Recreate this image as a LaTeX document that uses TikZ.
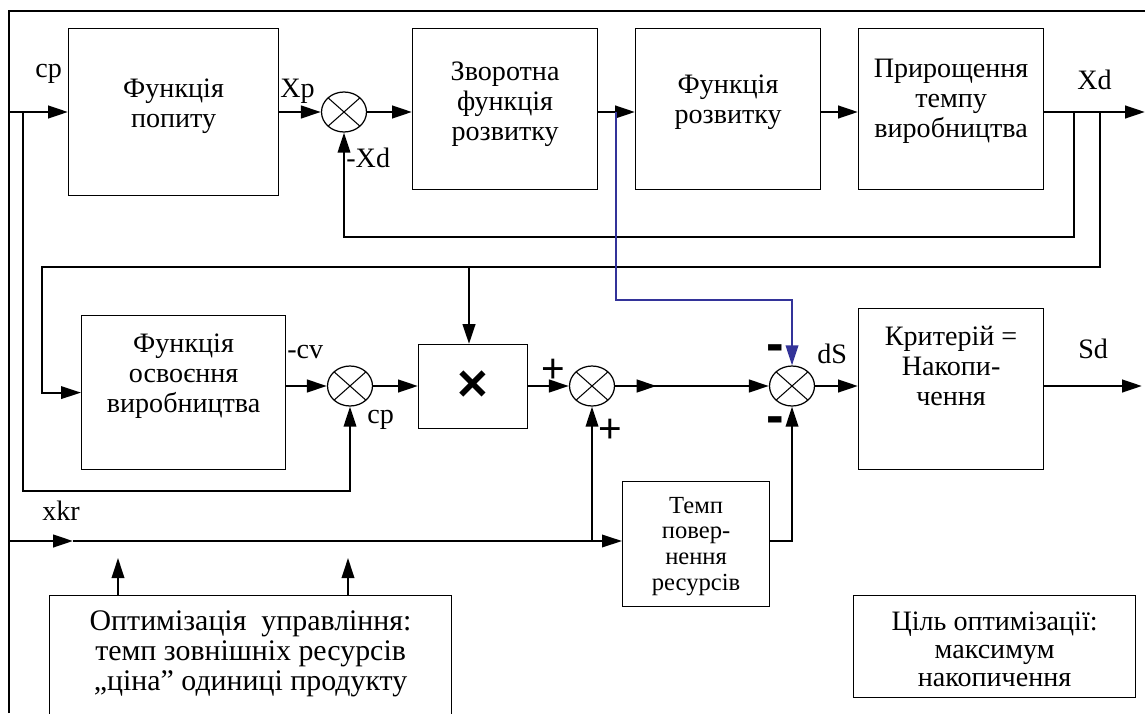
\documentclass[tikz,border=0pt]{standalone}
\usepackage{fontspec}
\setmainfont{Liberation Serif}
\newfontfamily\signfont{Liberation Sans}
\usetikzlibrary{arrows.meta}
\usetikzlibrary{shapes.geometric, positioning}
\usetikzlibrary{calc, decorations.markings}
\definecolor{linkblue}{RGB}{51,51,153}
\newcommand{\blockfont}{\fontsize{16}{17}\selectfont}
\newcommand{\smallblockfont}{\fontsize{14}{14.7}\selectfont}
\newcommand{\optfont}{\fontsize{17}{17}\selectfont}
\newcommand{\goalfont}{\fontsize{16}{16}\selectfont}
\newcommand{\plusfont}{\signfont\fontsize{23}{23}\selectfont}
\newcommand{\minusfont}{\signfont\bfseries\fontsize{30}{30}\selectfont}
\newcommand{\multfont}{\signfont\bfseries\fontsize{30}{30}\selectfont}
\tikzset{
    block/.style={
        rectangle,
        draw=black,
        line width=0.7pt,
        align=center,
        inner sep=0pt,
        anchor=north west,
        font=\blockfont
    },
    summer/.style={
        ellipse,
        draw=black,
        line width=0.7pt,
        minimum width=0.9cm,
        minimum height=0.8cm,
        inner sep=0pt,
        path picture={
            \draw [line width=0.6pt]
                ($(path picture bounding box.south west)!0.1464!(path picture bounding box.north east)$) --
                ($(path picture bounding box.south west)!0.8536!(path picture bounding box.north east)$)
                ($(path picture bounding box.north west)!0.1464!(path picture bounding box.south east)$) --
                ($(path picture bounding box.north west)!0.8536!(path picture bounding box.south east)$);
        }
    },
    arrow/.style={
        -{Triangle[length=0.4cm,width=0.25cm]},
        line width=1.6pt,
        draw=black
    },
    feed/.style={
        -{Triangle[length=0.4cm,width=0.25cm]},
        line width=1.1pt
    },
    midarrow/.style={
        postaction={decorate},
        decoration={markings, mark=at position #1 with {\arrow{Triangle[length=0.4cm,width=0.25cm]}}}
    },
    lbl/.style={inner sep=0pt, anchor=base west, font=\blockfont},
    sign/.style={inner sep=0pt, anchor=base, font=\plusfont}
}

\begin{document}
\begin{tikzpicture}[x=0.02cm, y=-0.02cm]
        \useasboundingbox (0,0) rectangle (1145,713);
        \clip (0,0) rectangle (1145,713);

        % Frame
        \draw [line width=1.1pt] (9,713) -- (9,11) -- (1145,11);

        % Upper chain
        \node (demand) [block, minimum width=4.2cm, text height=1.98cm, text depth=1.36cm] at (68,28) {Функція\\попиту};
        \node (sum1) [summer] at (344,112) {};
        \node (invdev) [block, minimum width=3.7cm, text height=2.24cm, text depth=0.98cm] at (412,28) {Зворотна\\функція\\розвитку};
        \node (dev) [block, minimum width=3.7cm, text height=1.9cm, text depth=1.32cm] at (635,28) {Функція\\розвитку};
        \node (growth) [block, minimum width=3.7cm, text height=2.18cm, text depth=1.04cm] at (858,28) {Прирощення\\темпу\\виробництва};

        % Middle chain
        \node (master) [block, minimum width=4.08cm, text height=1.94cm, text depth=1.14cm] at (81,315) {Функція\\освоєння\\виробництва};
        \node (sum2) [summer] at (350,386) {};
        \node (mult) [block, minimum width=2.18cm, minimum height=1.68cm, font=\multfont] at (418,344) {×};
        \node (sum3) [summer] at (592,386) {};
        \node (sum4) [summer] at (792,386) {};
        \node (crit) [block, minimum width=3.7cm, text height=1.94cm, text depth=1.28cm] at (858,308) {Критерій =\\Накопи-\\чення};

        % Lower part
        \node (ret) [block, minimum width=2.94cm, text height=2.18cm, text depth=0.32cm, font=\smallblockfont] at (622,481) {Темп\\повер-\\нення\\ресурсів};
        \node (opt) [block, minimum width=8.04cm, text height=1.9cm, text depth=0.6cm, font=\optfont] at (49,595) {Оптимізація\ \ управління:\\темп зовнішніх ресурсів\\„ціна” одиниці продукту};
        \node (goal) [block, minimum width=5.64cm, text height=1.82cm, text depth=0.22cm, font=\goalfont] at (853,595) {Ціль оптимізації:\\максимум\\накопичення};

        % Branch points and free ends
        \coordinate (cpin) at (9,112);
        \coordinate (cpsplit) at (23,112);
        \coordinate (bluesplit) at (616,112);
        \coordinate (fbsplit) at (1074,112);
        \coordinate (loopsplit) at (1100,112);
        \coordinate (xdout) at (1145,112);
        \coordinate (fbrow) at (0,237);
        \coordinate (looprow) at (42,267);
        \coordinate (multin) at (469,267);
        \coordinate (bluerow) at (0,300);
        \coordinate (cprow) at (0,491);
        \coordinate (sdout) at (1142,386);
        \coordinate (xkrin) at (9,541);
        \coordinate (xkrtip) at (73,541);
        \coordinate (retsplit) at (592,541);
        \coordinate (up1) at (118,558);
        \coordinate (up2) at (348,558);

        % Labels
        \node (cptop) [lbl] at (35,78) {cp};
        \node (xp) [lbl] at (280,97) {Xp};
        \node (negxd) [lbl] at (346,167) {-Xd};
        \node (xd) [lbl] at (1077,90) {Xd};
        \node (negcv) [lbl] at (287,358) {-cv};
        \node (cpmid) [lbl] at (367,423) {cp};
        \node (ds) [lbl] at (817,363) {dS};
        \node (sd) [lbl] at (1078,358) {Sd};
        \node (xkr) [lbl] at (42,520) {xkr};
        \node (plusa) [sign] at (553,382) {+};
        \node (plusb) [sign] at (610,442) {+};
        \node (minusa) [sign, font=\minusfont] at (775,361) {-};
        \node (minusb) [sign, font=\minusfont] at (775,433) {-};

        % Arrows
        \draw [arrow] (cpin) -- (cpin -| demand.west);
        \draw [arrow] (cpin -| demand.east) -- (sum1);
        \draw [arrow] (sum1) -- (sum1 -| invdev.west);
        \draw [arrow] (sum1 -| invdev.east) -- (sum1 -| dev.west);
        \draw [arrow] (sum1 -| dev.east) -- (sum1 -| growth.west);
        \draw [arrow] (sum1 -| growth.east) -- (xdout);
        \draw [feed] (fbsplit) -- (fbsplit |- fbrow) -| (sum1);
        \draw [feed] (loopsplit) |- (looprow) |- (master);
        \draw [arrow] (multin) -- (multin |- mult.north);
        \draw [feed, draw=linkblue] (bluesplit) -- (bluesplit |- bluerow) -| (sum4);
        \draw [feed] (cpsplit) -- (cpsplit |- cprow) -| (sum2);
        \draw [arrow] (master.east |- sum2) -- (sum2);
        \draw [arrow] (sum2) -- (sum2 -| mult.west);
        \draw [arrow] (sum2 -| mult.east) -- (sum3);
        \draw [arrow, midarrow=0.27] (sum3) -- (sum4);
        \draw [arrow] (sum4) -- (sum4 -| crit.west);
        \draw [arrow] (sum4 -| crit.east) -- (sdout);
        \draw [arrow] (xkrin) -- (xkrtip);
        \draw [feed] (xkrtip) -- (xkrtip -| ret.west);
        \draw [feed] (retsplit) -- (sum3);
        \draw [feed] (xkrtip -| ret.east) -| (sum4);
        \draw [feed] (opt.north -| up1) -- (up1);
        \draw [feed] (opt.north -| up2) -- (up2);

\end{tikzpicture}
\end{document}
